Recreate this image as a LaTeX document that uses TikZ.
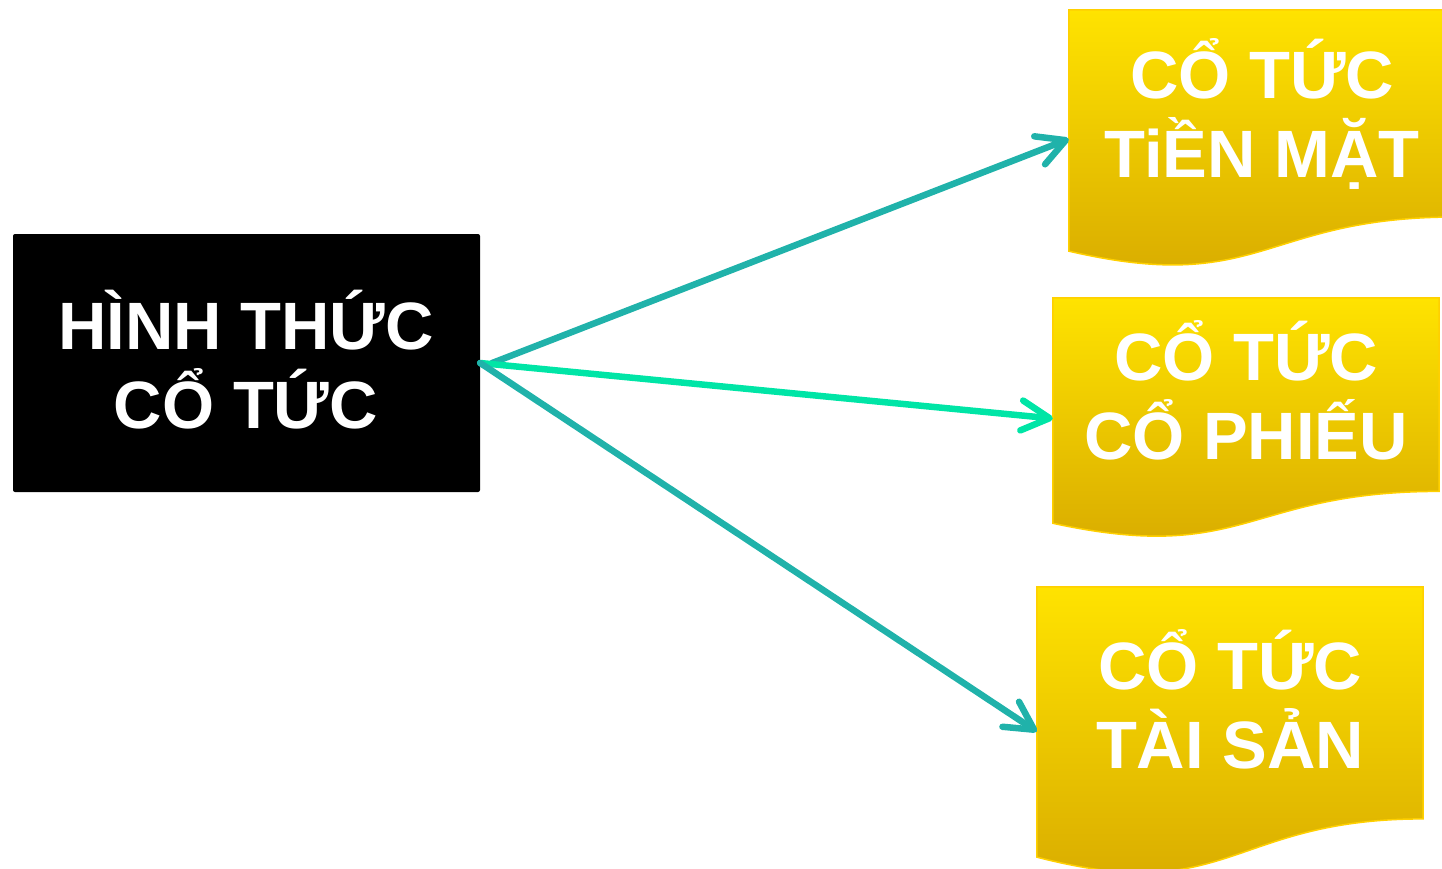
\documentclass[tikz,border=0pt]{standalone}
\usepackage{fontspec}
\setmainfont{Liberation Sans}
\usetikzlibrary{arrows.meta,calc}

\definecolor{teallink}{RGB}{32,178,170}
\definecolor{mintlink}{RGB}{0,229,166}
\definecolor{goldtop}{RGB}{255,227,0}
\definecolor{goldbottom}{RGB}{214,168,0}
\definecolor{goldedge}{RGB}{255,208,0}

\tikzset{
  formbox/.style={rectangle, fill=black, rounded corners=2pt, inner sep=0pt,
    minimum width=467pt, minimum height=258pt},
  docbox/.style={rectangle, inner sep=0pt, minimum width=386pt},
  boxtext/.style={anchor=base, align=center, text=white, inner sep=0pt,
    font=\fontsize{67}{79}\selectfont\bfseries},
  link/.style={line width=6.5pt, line cap=round,
    -{Straight Barb[length=28pt, width=30pt, round]}},
}

\begin{document}
\begin{tikzpicture}[x=1pt, y=-1pt]
  \useasboundingbox (0,0) rectangle (1442,869);
  \clip (0,0) rectangle (1442,869);

  % source box
  \node[formbox] (form) at (246.5,363) {};
  \node[boxtext] (formtext) at (246,428) {HÌNH THỨC\\CỔ TỨC};

  % target boxes (full document-shape frames)
  \node[docbox, minimum height=258pt] (cash)  at (1262,139) {};
  \node[docbox, minimum height=241pt] (stock) at (1246,418.5) {};
  \node[docbox, minimum height=289pt] (asset) at (1230,731.5) {};

  % document outline: straight top and sides, wavy bottom edge
  \foreach \n in {cash,stock,asset}{
    \draw[goldedge, line width=1.5pt, top color=goldtop, bottom color=goldbottom]
      (\n.north west) -- (\n.north east)
      -- ($(\n.north east)!0.802!(\n.south east)$)
      .. controls ($(\n.north)!0.802!(\n.south)$) and ($(\n.north)!1.1075!(\n.south)$)
      .. ($(\n.north west)!0.934!(\n.south west)$) -- cycle;
  }

  \node[boxtext] (cashtext)  at (1262,178) {CỔ TỨC\\TiỀN MẶT};
  \node[boxtext] (stocktext) at (1246,459) {CỔ TỨC\\CỔ PHIẾU};
  \node[boxtext] (assettext) at (1230,768) {CỔ TỨC\\TÀI SẢN};

  % connectors
  \draw[link, teallink] ([xshift=12pt]form.east) -- (cash.west);
  \draw[link, mintlink] (form.east) -- (stock.west);
  \draw[link, teallink] (form.east) -- (asset.west);
\end{tikzpicture}
\end{document}
